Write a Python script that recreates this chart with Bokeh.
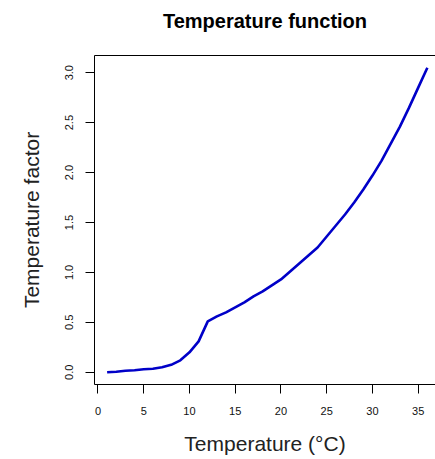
from bokeh.plotting import figure
from bokeh.models import Range1d, LinearAxis, FixedTicker
from bokeh.embed import file_html
from bokeh.resources import INLINE

# Data
temperature = list(range(1, 37))
factor = [0.00, 0.005, 0.015, 0.02, 0.03, 0.035, 0.05, 0.075, 0.12, 0.20,
          0.31, 0.51, 0.56, 0.60, 0.65, 0.70, 0.76, 0.81, 0.87, 0.93,
          1.01, 1.09, 1.17, 1.25, 1.36, 1.47, 1.58, 1.70, 1.83, 1.97,
          2.12, 2.29, 2.46, 2.65, 2.85, 3.05]
x_ticks = [0, 5, 10, 15, 20, 25, 30, 35]
y_ticks = [0.0, 0.5, 1.0, 1.5, 2.0, 2.5, 3.0]
y_tick_labels = {0.0: "0.0", 0.5: "0.5", 1.0: "1.0", 1.5: "1.5", 2.0: "2.0", 2.5: "2.5", 3.0: "3.0"}
title_text = "Temperature function"

FONT = "Liberation Sans"

p = figure(width=435, height=459, output_backend="svg", toolbar_location=None,
           x_range=Range1d(-0.38, 36.89), y_range=Range1d(-0.122, 3.172),
           min_border_left=94, min_border_right=0, min_border_top=55, min_border_bottom=75)

p.background_fill_color = "white"
p.border_fill_color = "white"
p.outline_line_color = None
p.xgrid.visible = False
p.ygrid.visible = False

bottom = p.below[0]
left = p.left[0]
bottom.axis_label = "Temperature (°C)"
left.axis_label = "Temperature factor"

# top border line, carrying the chart title as its label
top = LinearAxis(ticker=FixedTicker(ticks=[]), major_tick_out=0, major_tick_in=0,
                 minor_tick_out=0, minor_tick_in=0, major_label_standoff=0,
                 major_label_text_font_size="0px",
                 axis_line_color="black", axis_line_width=1,
                 axis_label=title_text, axis_label_standoff=24,
                 axis_label_text_font=FONT, axis_label_text_font_size="20px",
                 axis_label_text_font_style="bold", axis_label_text_color="black")
p.add_layout(top, "above")

for ax in (bottom, left):
    ax.axis_line_color = "black"
    ax.major_tick_line_color = "black"
    ax.major_tick_out = 9
    ax.major_tick_in = 0
    ax.minor_tick_line_color = None
    ax.major_label_text_font = FONT
    ax.major_label_text_font_size = "11px"
    ax.major_label_text_color = "#111111"
    ax.axis_label_text_font = FONT
    ax.axis_label_text_font_size = "21px"
    ax.axis_label_text_font_style = "normal"
    ax.axis_label_text_color = "#222222"

bottom.ticker = FixedTicker(ticks=x_ticks)
bottom.major_label_standoff = 13
bottom.axis_label_standoff = 14

left.ticker = FixedTicker(ticks=y_ticks)
left.major_label_overrides = y_tick_labels
left.major_label_orientation = "vertical"
left.major_label_standoff = 12
left.axis_label_standoff = 20

p.line(temperature, factor, line_color="#0000C8", line_width=2.6)

open("out.html", "w").write(file_html(p, INLINE))
